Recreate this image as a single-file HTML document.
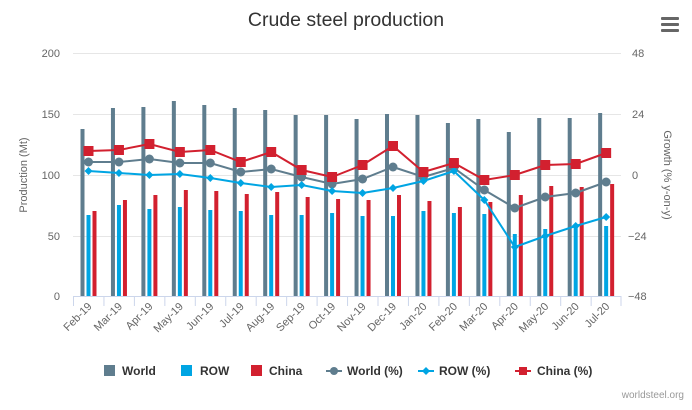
<!DOCTYPE html>
<html><head><meta charset="utf-8"><style>
body{margin:0;background:#fff;font-family:"Liberation Sans",sans-serif}
svg text{font-family:"Liberation Sans",sans-serif}
</style></head><body>
<svg id="s" width="692" height="405" xmlns="http://www.w3.org/2000/svg">
<text x="346" y="26" text-anchor="middle" font-size="19.5" fill="#333">Crude steel production</text>
<g fill="#666"><rect x="661" y="17" width="18" height="3" rx="1"/><rect x="661" y="23" width="18" height="3" rx="1"/><rect x="661" y="29" width="18" height="3" rx="1"/></g>
<g stroke="#e6e6e6" stroke-width="1">
<line x1="73" x2="621" y1="53.5" y2="53.5"/><line x1="73" x2="621" y1="114.5" y2="114.5"/><line x1="73" x2="621" y1="175.5" y2="175.5"/><line x1="73" x2="621" y1="236.5" y2="236.5"/>
</g>
<g font-size="11" fill="#666" text-anchor="end">
<text x="60" y="57">200</text><text x="60" y="118">150</text><text x="60" y="179">100</text><text x="60" y="240">50</text><text x="60" y="300">0</text>
</g>
<g font-size="11" fill="#666" text-anchor="start">
<text x="632" y="57">48</text><text x="632" y="118">24</text><text x="632" y="179">0</text><text x="628" y="240">−24</text><text x="628" y="300">−48</text>
</g>
<text transform="translate(27,175) rotate(-90)" text-anchor="middle" font-size="11" fill="#666">Production (Mt)</text>
<text transform="translate(664,175) rotate(90)" text-anchor="middle" font-size="11" fill="#666">Growth (% y-on-y)</text>
<g id="bars"></g>
<line x1="73" x2="621" y1="296.5" y2="296.5" stroke="#ccd6eb"/>
<g id="ticks" stroke="#ccd6eb"></g>
<g id="lines"></g>
<g id="labels" font-size="11" fill="#666"></g>
<g font-size="12" font-weight="bold" fill="#333">
<rect x="104" y="365" width="11" height="11" fill="#5f7d8e"/><text x="122" y="375">World</text>
<rect x="181" y="365" width="11" height="11" fill="#00a5e3"/><text x="200" y="375">ROW</text>
<rect x="251" y="365" width="11" height="11" fill="#d2202f"/><text x="269" y="375">China</text>
<line x1="326" x2="342" y1="371" y2="371" stroke="#5f7d8e" stroke-width="2"/><circle cx="334" cy="371" r="4" fill="#5f7d8e"/><text x="347" y="375">World (%)</text>
<line x1="418" x2="434" y1="371" y2="371" stroke="#00a5e3" stroke-width="2"/><path d="M426 367l4 4-4 4-4-4z" fill="#00a5e3"/><text x="439" y="375">ROW (%)</text>
<line x1="515" x2="531" y1="371" y2="371" stroke="#d2202f" stroke-width="2"/><rect x="519" y="367" width="8" height="8" fill="#d2202f"/><text x="537" y="375">China (%)</text>
</g>
<text x="684" y="398" text-anchor="end" font-size="10" fill="#999">worldsteel.org</text>
</svg>
<script>
var NS="http://www.w3.org/2000/svg";
function el(p,t,a){var e=document.createElementNS(NS,t);for(var k in a)e.setAttribute(k,a[k]);document.getElementById(p).appendChild(e);return e;}
var cats=["Feb-19","Mar-19","Apr-19","May-19","Jun-19","Jul-19","Aug-19","Sep-19","Oct-19","Nov-19","Dec-19","Jan-20","Feb-20","Mar-20","Apr-20","May-20","Jun-20","Jul-20"];
var W=[129,108,107,101,105,108,110,115,115,119,114,115,123,119,132,118,118,113];
var R=[215,205,209,207,210,211,215,215,213,216,216,211,213,214,234,229,225,226];
var C=[211,200,195,190,191,194,192,197,199,200,195,201,207,202,195,186,187,184];
var WP=[162,162,159,163,163,172,169,177,184,179,167,177,168,190,208,197,193,182];
var RP=[171,173,175,174,178,183,187,185,191,193,188,181,171,200,247,236,226,217];
var CP=[151,150,144,152,150,162,152,170,177,165,146,172,163,180,175,165,164,153];
var sp=30.45;
for(var i=0;i<18;i++){
 var c=88.5+sp*i;
 el("bars","rect",{x:c-8,y:W[i],width:4,height:296-W[i],fill:"#5f7d8e"});
 el("bars","rect",{x:c-2,y:R[i],width:4,height:296-R[i],fill:"#00a5e3"});
 el("bars","rect",{x:c+4,y:C[i],width:4,height:296-C[i],fill:"#d2202f"});
 el("ticks","line",{x1:73+sp*i+0.5,x2:73+sp*i+0.5,y1:296,y2:306});
 var t=el("labels","text",{"text-anchor":"end",transform:"translate("+(c+4)+",307) rotate(-45)"});t.textContent=cats[i];
}
el("ticks","line",{x1:621,x2:621,y1:296,y2:306});
function line(d,col,mk){
 var p="";for(var i=0;i<18;i++){p+=(i?"L":"M")+(88.5+sp*i)+" "+d[i];}
 el("lines","path",{d:p,fill:"none",stroke:col,"stroke-width":2});
 for(var i=0;i<18;i++){var x=88.5+sp*i,y=d[i];
  if(mk==0)el("lines","circle",{cx:x,cy:y,r:4.5,fill:col});
  else if(mk==1)el("lines","path",{d:"M"+x+" "+(y-4)+"l4 4-4 4-4-4z",fill:col});
  else el("lines","rect",{x:x-5,y:y-5,width:10,height:10,fill:col});}
}
line(WP,"#5f7d8e",0);line(RP,"#00a5e3",1);line(CP,"#d2202f",2);
</script>
</body></html>
